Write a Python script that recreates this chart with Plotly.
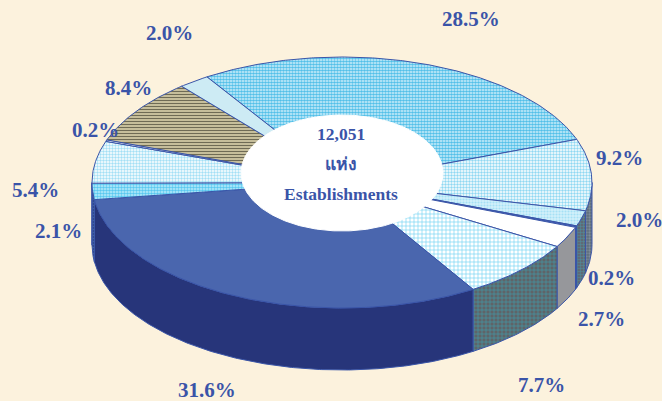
import numpy as np
import plotly.graph_objects as go

# ---- data ----
shares = [28.5, 9.2, 2.0, 0.2, 2.7, 7.7, 31.6, 2.1, 5.4, 0.2, 8.4, 2.0]
share_labels = ["28.5%", "9.2%", "2.0%", "0.2%", "2.7%", "7.7%", "31.6%", "2.1%", "5.4%", "0.2%", "8.4%", "2.0%"]
centre_lines = ["12,051", "แห่ง", "Establishments"]

# ---- placement / style (pixels) ----
label_x = [471, 619, 639, 611, 601, 541, 207, 58, 35, 95, 128, 169]
label_y = [19, 158, 220, 278, 319, 385, 390, 231, 190, 130, 88, 33]
centre_y = [134, 164, 194]
CX, CY, RX, RY, DEPTH = 342, 182.5, 250, 125.5, 62
HX, HY, HRX, HRY = 342, 173, 101, 58
START = -122.7
BG = "#fcf2dd"
INK = "#3a54a8"
FONT = "Liberation Serif, Times New Roman, serif"

def pat(shape, bg, fg, size, sol):
    return dict(shape=shape, bgcolor=bg, fgcolor=fg, size=size, solidity=sol, fillmode="replace")

top_style = [
    dict(fillpattern=pat(".", "#d8f3fc", "#52bfe8", 3, 0.62)),
    dict(fillpattern=pat(".", "#ffffff", "#8fd8f2", 3, 0.5)),
    dict(fillpattern=pat(".", "#d3f1fb", "#a5e0f5", 3, 0.4)),
    dict(fillcolor="#3f5fb5"),
    dict(fillcolor="#ffffff"),
    dict(fillpattern=pat("+", "#ffffff", "#72d2f3", 4, 0.3)),
    dict(fillcolor="#4a66ae"),
    dict(fillpattern=pat(".", "#bdeefc", "#58c8f0", 3, 0.55)),
    dict(fillpattern=pat(".", "#ffffff", "#a3dff5", 3, 0.5)),
    dict(fillcolor="#ffffff"),
    dict(fillpattern=pat("-", "#d8d0aa", "#6f6b55", 3, 0.45)),
    dict(fillcolor="#cdebf4"),
]
wall_style = [
    dict(fillcolor="#5a6f85"),
    dict(fillpattern=pat(".", "#5e6d7a", "#7f8e9c", 3, 0.45)),
    dict(fillpattern=pat("+", "#5f6a75", "#4f8fa0", 3, 0.3)),
    dict(fillcolor="#3f5aa8"),
    dict(fillcolor="#96979b"),
    dict(fillpattern=pat("+", "#5f6468", "#3f9aa8", 4, 0.3)),
    dict(fillcolor="#27357a"),
    dict(fillpattern=pat(".", "#2b3f85", "#5f8fc0", 3, 0.4)),
    dict(fillcolor="#5a6f85"), dict(fillcolor="#5a6f85"),
    dict(fillcolor="#5a6f85"), dict(fillcolor="#5a6f85"),
]

edges = START + np.concatenate([[0], np.cumsum(shares)]) * 3.6 * 100 / sum(shares)

def arc(a0, a1, rx=RX, ry=RY, cx=CX, cy=CY, dy=0):
    t = np.radians(np.linspace(a0, a1, max(int(abs(a1 - a0) * 2), 2)))
    return cx + rx * np.cos(t), cy + dy + ry * np.sin(t)

fig = go.Figure()

# outer walls: only the front half (0..180 degrees) shows
for i in range(len(shares)):
    a0, a1 = max(edges[i], 0), min(edges[i + 1], 180)
    if a1 <= a0:
        continue
    x1, y1 = arc(a0, a1)
    x2, y2 = arc(a1, a0, dy=DEPTH)
    fig.add_trace(go.Scatter(
        x=np.r_[x1, x2, x1[0]], y=np.r_[y1, y2, y1[0]], mode="lines", fill="toself",
        line=dict(color="#3a55a8", width=1), hoverinfo="skip", showlegend=False, **wall_style[i]))

# top faces
for i in range(len(shares)):
    x1, y1 = arc(edges[i], edges[i + 1])
    fig.add_trace(go.Scatter(
        x=np.r_[CX, x1, CX], y=np.r_[CY, y1, CY], mode="lines", fill="toself",
        line=dict(color="#3a55a8", width=1), hoverinfo="skip", showlegend=False, **top_style[i]))

# white hole
hx, hy = arc(0, 360, HRX, HRY, HX, HY)
fig.add_trace(go.Scatter(x=hx, y=hy, mode="lines", fill="toself", fillcolor="#ffffff",
                         line=dict(color="#ffffff", width=1), hoverinfo="skip", showlegend=False))

ann = [dict(x=x, y=y, text=t, showarrow=False, xanchor="center", yanchor="middle",
            font=dict(family=FONT, size=21, color=INK, weight="bold"))
       for x, y, t in zip(label_x, label_y, share_labels)]
ann += [dict(x=HX - 1, y=y, text=t, showarrow=False, xanchor="center", yanchor="middle",
             font=dict(family=FONT + ", Noto Sans", size=17.5, color=INK, weight="bold"))
        for y, t in zip(centre_y, centre_lines)]

fig.update_layout(
    width=662, height=401, margin=dict(l=0, r=0, t=0, b=0),
    paper_bgcolor=BG, plot_bgcolor=BG, annotations=ann,
    xaxis=dict(range=[0, 662], visible=False, fixedrange=True),
    yaxis=dict(range=[401, 0], visible=False, fixedrange=True),
)
fig.write_html("out.html", config=dict(displayModeBar=False),
               post_script="document.body.style.margin='0';document.body.style.overflow='hidden';document.documentElement.style.background='%s';" % BG)
